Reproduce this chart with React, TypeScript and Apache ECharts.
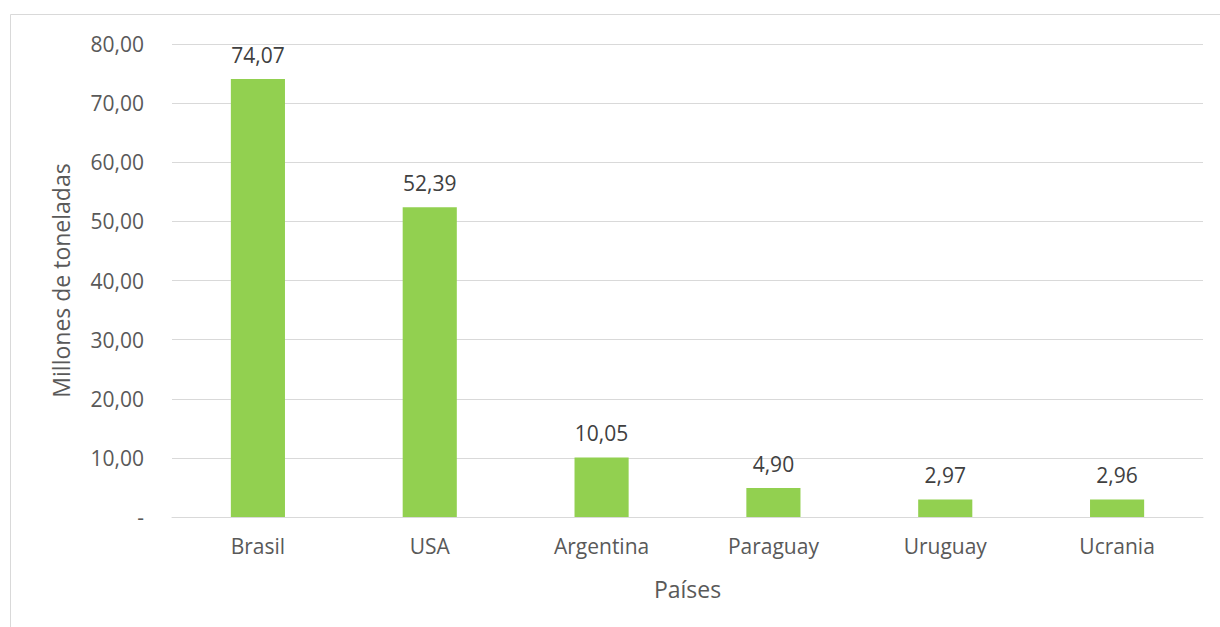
import React, { useEffect, useRef } from "react";
import * as echarts from "echarts";

const categories = ["Brasil", "USA", "Argentina", "Paraguay", "Uruguay", "Ucrania"];
const values = [74.07, 52.39, 10.05, 4.9, 2.97, 2.96];
const yTicks = [0, 10, 20, 30, 40, 50, 60, 70, 80];

const fmt = (v: number) => v.toFixed(2).replace(".", ",");
const FONT = "'Open Sans', 'Noto Sans', sans-serif";
const TXT = "#595959";

export default function App() {
  const ref = useRef<HTMLDivElement>(null);
  useEffect(() => {
    if (!ref.current) return;
    const chart = echarts.init(ref.current, undefined, { renderer: "svg" });
    chart.setOption({
      animation: false,
      backgroundColor: "#ffffff",
      textStyle: { fontFamily: FONT },
      graphic: [
        {
          type: "rect",
          shape: { x: 10.5, y: 14.5, width: 1230, height: 640 },
          style: { fill: "none", stroke: "#d9d9d9", lineWidth: 1 },
          silent: true,
        },
      ],
      grid: { left: 172, right: 17, top: 44, bottom: 110, containLabel: false },
      xAxis: {
        type: "category",
        data: categories,
        axisLine: { show: true, lineStyle: { color: "#d9d9d9", width: 1 } },
        axisTick: { show: false },
        axisLabel: { color: TXT, fontSize: 21, fontFamily: FONT, margin: 18 },
        name: "Países",
        nameLocation: "middle",
        nameGap: 60,
        nameTextStyle: { color: TXT, fontSize: 23, fontFamily: FONT },
      },
      yAxis: {
        type: "value",
        min: yTicks[0],
        max: yTicks[yTicks.length - 1],
        interval: 10,
        axisLine: { show: false },
        axisTick: { show: false },
        splitLine: { lineStyle: { color: "#d9d9d9", width: 1 } },
        axisLabel: {
          color: TXT,
          fontSize: 21,
          fontFamily: FONT,
          margin: 28,
          formatter: (v: number) => (v === 0 ? "-" : fmt(v)),
        },
        name: "Millones de toneladas",
        nameLocation: "middle",
        nameGap: 100,
        nameTextStyle: { color: TXT, fontSize: 23, fontFamily: FONT },
      },
      series: [
        {
          type: "bar",
          data: values,
          barWidth: "31.5%",
          itemStyle: { color: "#92d050" },
          label: {
            show: true,
            position: "top",
            distance: 14,
            color: "#404040",
            fontSize: 21,
            fontFamily: FONT,
            formatter: (p: any) => fmt(p.value),
          },
        },
      ],
    });
    return () => chart.dispose();
  }, []);
  return (
    <div
      ref={ref}
      style={{ position: "absolute", left: 0, top: 0, width: 1220, height: 627 }}
    />
  );
}
